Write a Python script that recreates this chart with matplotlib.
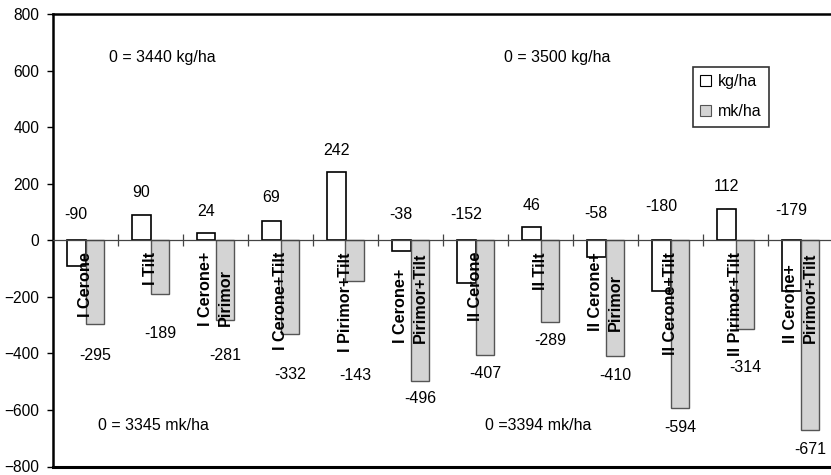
"""Yield change per treatment, kg/ha and mk/ha, against untreated plots."""

import numpy as np
import matplotlib
matplotlib.use('Agg')
import matplotlib.pyplot as plt
from matplotlib.patches import Patch

plt.rcParams['font.family'] = ['Liberation Sans', 'DejaVu Sans']

## Data
categories = ['I Cerone', 'I Tilt', 'I Cerone+\nPirimor', 'I Cerone+Tilt',
              'I Pirimor+Tilt', 'I Cerone+\nPirimor+Tilt',
              'II Cerone', 'II Tilt', 'II Cerone+\nPirimor', 'II Cerone+Tilt',
              'II Pirimor+Tilt', 'II Cerone+\nPirimor+Tilt']
kg_ha = [-90, 90, 24, 69, 242, -38, -152, 46, -58, -180, 112, -179]
mk_ha = [-295, -189, -281, -332, -143, -496, -407, -289, -410, -594, -314, -671]
notes = ['0 = 3440 kg/ha', '0 = 3500 kg/ha', '0 = 3345 mk/ha', '0 =3394 mk/ha']

## Hand-placed value label heights (data units), as in the original
kg_label_y = [92, 168, 101, 150, 319, 90, 92, 123, 94, 119, 189, 105]
mk_label_y = [-409, -328, -409, -476, -479, -560, -472, -356, -479, -662, -451, -740]
note_xy = [(1.18, 646), (7.25, 646), (1.05, -656), (6.96, -656)]

FS = 11.5
GRAY = '#d4d4d4'

fig = plt.figure(figsize=(8.31, 4.75), dpi=100)
ax = fig.add_axes([53/831, 8.5/475, 780/831, 452.5/475])

x = np.arange(len(categories))
w = 0.29
ax.bar(x - w/2, kg_ha, w, color='white', edgecolor='black', linewidth=1.2,
       zorder=2)
ax.bar(x + w/2, mk_ha, w, color=GRAY, edgecolor='#555555', linewidth=1.0,
       zorder=2)

## Value labels
for i in range(len(categories)):
    ax.text(x[i] - w/2, kg_label_y[i], str(kg_ha[i]), ha='center',
            va='center', fontsize=FS, zorder=4)
    ax.text(x[i] + w/2, mk_label_y[i], str(mk_ha[i]), ha='center',
            va='center', fontsize=FS, zorder=4)

## Category labels hanging under the zero line
for i, lab in enumerate(categories):
    ax.annotate(lab, xy=(x[i], 0), xytext=(0, -8.5),
                textcoords='offset points', rotation=90, ha='center',
                va='top', multialignment='left', fontsize=11.7,
                fontweight='bold', zorder=5, linespacing=1.4)

for (nx, ny), txt in zip(note_xy, notes):
    ax.text(nx, ny, txt, ha='center', va='center', fontsize=FS)

## Axes styling
ax.set_xlim(-0.5, len(categories) - 0.5)
ax.set_ylim(-800, 800)
ax.set_yticks(np.arange(-800, 801, 200))
ax.tick_params(axis='y', direction='out', length=4, width=1, pad=6,
               labelsize=11.2)
ax.spines['right'].set_visible(False)
ax.spines['left'].set_linewidth(1.8)
ax.spines['top'].set_linewidth(1.8)
ax.spines['bottom'].set_position(('data', 0))
ax.spines['bottom'].set_color('#444444')
ax.spines['bottom'].set_linewidth(0.9)
ax.spines['bottom'].set_zorder(3)
ax.set_xticks(x[:-1] + 0.5)
ax.set_xticklabels([])
ax.tick_params(axis='x', direction='inout', length=9, width=0.9,
               color='#444444')
ax.axhline(-800, color='black', linewidth=2.2, clip_on=False)

handles = [Patch(facecolor='white', edgecolor='black', linewidth=0.8),
           Patch(facecolor=GRAY, edgecolor='#555555', linewidth=0.8)]
leg = ax.legend(handles, ['kg/ha', 'mk/ha'], loc='upper left',
                bbox_to_anchor=(693/831, 1 - 67/475),
                bbox_transform=fig.transFigure, fontsize=FS, fancybox=False,
                frameon=True, edgecolor='black', handlelength=0.7,
                handleheight=0.7, handletextpad=0.4, labelspacing=0.95,
                borderpad=0.45, borderaxespad=0)
leg.get_frame().set_linewidth(1.2)

fig.savefig('out.png', dpi=100)
